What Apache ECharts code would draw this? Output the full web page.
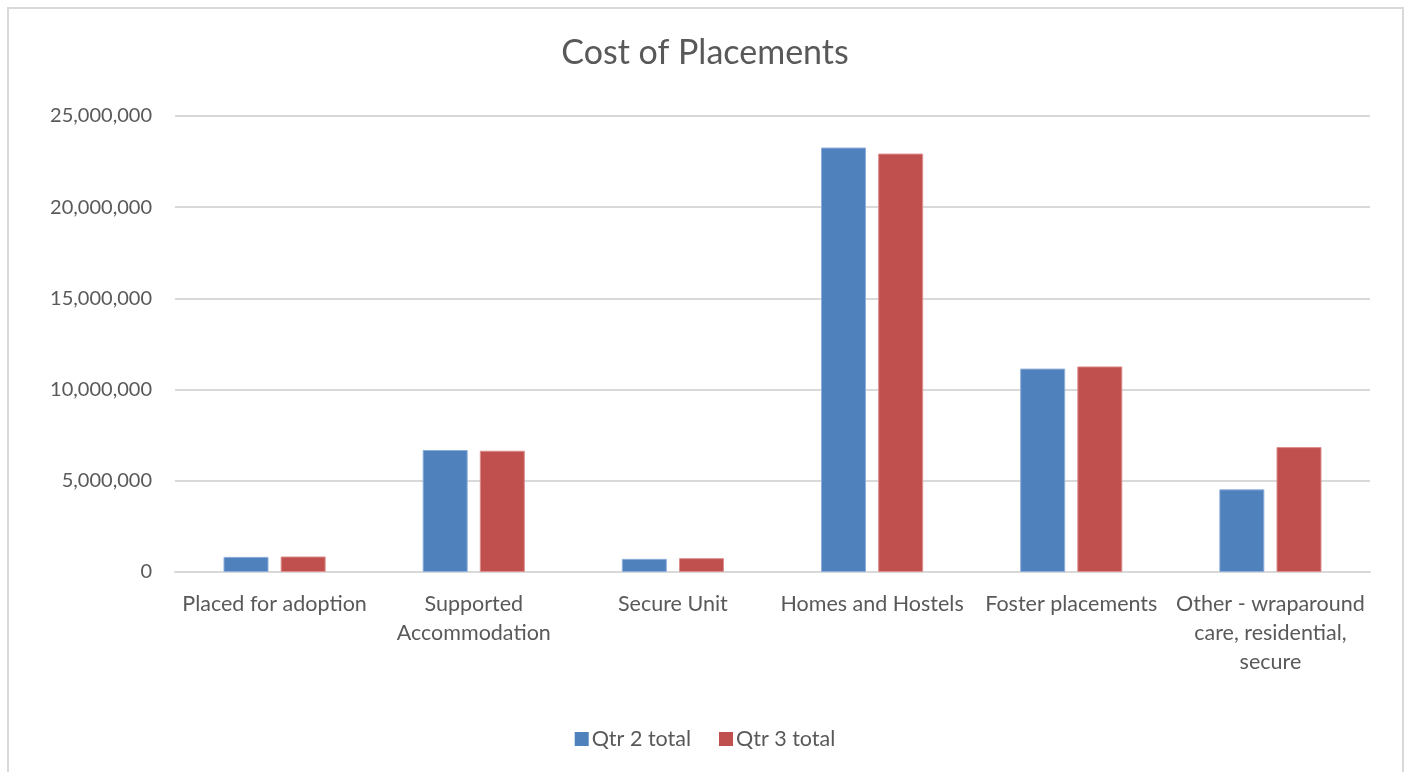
<!DOCTYPE html>
<html>
<head>
<meta charset="utf-8">
<script src="https://cdn.jsdelivr.net/npm/echarts@6/dist/echarts.min.js"></script>
<style>
html,body{margin:0;padding:0;background:#fff;}
#chart{width:1410px;height:772px;}
</style>
</head>
<body>
<div id="chart"></div>
<script>
const categories = [
  "Placed for adoption",
  "Supported\nAccommodation",
  "Secure Unit",
  "Homes and Hostels",
  "Foster placements",
  "Other - wraparound\ncare, residential,\nsecure"
];
const qtr2Values = [830000, 6690000, 720000, 23270000, 11150000, 4530000];
const qtr3Values = [850000, 6650000, 760000, 22940000, 11270000, 6850000];
const seriesNames = ["Qtr 2 total", "Qtr 3 total"];
const chartTitle = "Cost of Placements";

const FONT = "Lato, 'Open Sans', sans-serif";
const TXT = "#595959";
const chart = echarts.init(document.getElementById('chart'), null, {renderer: 'canvas'});
chart.setOption({
  backgroundColor: '#fff',
  animation: false,
  graphic: [{
    type: 'rect',
    shape: {x: 8, y: 8, width: 1395, height: 780},
    style: {fill: 'none', stroke: '#d9d9d9', lineWidth: 2},
    silent: true
  }],
  title: {
    text: chartTitle,
    left: 'center',
    top: 31,
    textStyle: {fontFamily: FONT, fontSize: 34, fontWeight: 'normal', color: TXT}
  },
  legend: {
    bottom: 17,
    left: 'center',
    itemWidth: 14,
    itemHeight: 14,
    itemGap: 28,
    icon: 'rect',
    itemStyle: {borderWidth: 0},
    textStyle: {fontFamily: FONT, fontSize: 21.5, color: TXT, padding: [0,0,0,-2]},
    data: seriesNames
  },
  grid: {left: 175, right: 40, top: 116, bottom: 200, containLabel: false},
  xAxis: {
    type: 'category',
    data: categories,
    axisLine: {show: true, lineStyle: {color: '#d9d9d9', width: 2}},
    axisTick: {show: false},
    axisLabel: {
      interval: 0,
      fontFamily: FONT, fontSize: 21.5, color: TXT,
      margin: 18, lineHeight: 29
    }
  },
  yAxis: {
    type: 'value',
    min: 0, max: 25000000, interval: 5000000,
    axisLine: {show: false},
    axisTick: {show: false},
    splitLine: {lineStyle: {color: '#d9d9d9', width: 2}},
    axisLabel: {
      fontFamily: FONT, fontSize: 20, color: TXT, margin: 23,
      formatter: v => v.toLocaleString('en-US')
    }
  },
  series: [
    {
      name: seriesNames[0], type: 'bar', data: qtr2Values,
      barWidth: 45, barGap: '27%',
      itemStyle: {color: '#4f81bd', borderColor: '#8eaedb', borderWidth: 1}
    },
    {
      name: seriesNames[1], type: 'bar', data: qtr3Values,
      barWidth: 45, barGap: '27%',
      itemStyle: {color: '#c0504d', borderColor: '#dc8f8d', borderWidth: 1}
    }
  ]
});
</script>
</body>
</html>
